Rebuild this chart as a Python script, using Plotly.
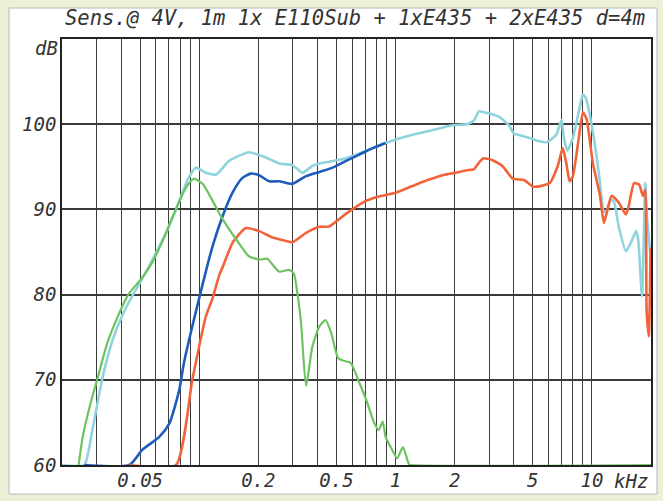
import plotly.graph_objects as go
import math

# ---- data (frequency in kHz, level in dB) ----
cyan_f = [0.02, 0.026, 0.0285, 0.032, 0.036, 0.041, 0.046, 0.0505, 0.0578, 0.0678, 0.0762, 0.0874,
          0.0961, 0.108, 0.122, 0.142, 0.179, 0.218, 0.255, 0.298, 0.336, 0.377, 0.41, 0.46, 0.56, 0.71,
          0.89, 1.13, 1.48, 1.97, 2.3, 2.5, 2.66, 2.94, 3.4, 3.8, 4.0, 4.5, 5.2, 5.9, 6.6, 7.0, 7.2, 7.5,
          8.0, 8.6, 9.0, 9.3, 10.2, 11.0, 11.4, 11.8, 12.5, 13.0, 13.7, 14.9, 15.8, 16.8, 17.2, 18.0,
          18.7, 19.0, 19.9]
cyan_db = [60, 60, 64.0, 70, 74.5, 77.8, 80.0, 81.6, 84.1, 87.25, 90.0, 93.5,
           94.9, 94.3, 94.1, 95.7, 96.7, 96.1, 95.4, 95.2, 94.3, 95.1, 95.4, 95.6, 96.0, 96.9,
           97.8, 98.55, 99.2, 99.9, 100.0, 100.4, 101.5, 101.3, 100.8, 99.8, 98.9, 98.6, 98.1, 97.9, 98.8, 100.5, 98.4, 96.9,
           98.4, 101.6, 103.5, 103.1, 98.6, 93.1, 90.0, 89.6, 91.2, 90.8, 88.0, 85.1, 86.1, 87.45, 86.5, 79.8,
           93.1, 89.6, 84.5]

blue_f = [0.026, 0.044, 0.0514, 0.0626, 0.0705, 0.0791, 0.0836, 0.1, 0.117, 0.1315, 0.148, 0.166, 0.183,
          0.202, 0.227, 0.255, 0.298, 0.35, 0.41, 0.478, 0.56, 0.65, 0.75, 0.89]
blue_db = [60, 60, 61.8, 63.3, 64.9, 68.8, 72.0, 79.6, 85.7, 89.2, 92.0, 93.7, 94.2,
           94.0, 93.3, 93.3, 93.0, 93.9, 94.4, 94.9, 95.7, 96.4, 97.1, 97.8]

orange_f = [0.044, 0.0762, 0.0922, 0.108, 0.117, 0.127, 0.132, 0.148, 0.172, 0.202, 0.236, 0.255, 0.298,
            0.35, 0.41, 0.46, 0.56, 0.68, 0.82, 1.0, 1.22, 1.48, 1.8, 2.02, 2.3, 2.5, 2.66, 2.8, 3.1, 3.5,
            3.96, 4.5, 5.0, 5.4, 6.1, 6.7, 7.1, 7.4, 7.7, 8.0, 8.6, 9.0, 9.4, 10.1, 11.0, 11.5, 11.9, 12.6,
            13.7, 14.9, 15.4, 16.4, 17.4, 18.2, 18.7, 19.0, 19.5, 19.9]
orange_db = [60, 60, 70, 77.4, 79.6, 82.4, 83.3, 86.1, 87.8, 87.45, 86.7, 86.5, 86.15,
             87.25, 87.96, 88.0, 89.5, 90.8, 91.5, 91.96, 92.75, 93.5, 94.1, 94.3, 94.6, 94.7, 95.5, 96.0, 95.8, 95.1,
             93.6, 93.45, 92.7, 92.7, 93.1, 95.1, 97.2, 95.5, 93.3, 93.9, 98.6, 101.4, 100.6, 95.5, 91.6, 88.4, 89.6, 91.6,
             90.8, 89.4, 90.4, 93.1, 92.9, 91.6, 92.3, 78.2, 75.1, 85.5]

green_f = [0.0243, 0.0255, 0.028, 0.0302, 0.034, 0.0385, 0.0435, 0.0505, 0.0568, 0.0651, 0.0746, 0.0856,
           0.094, 0.104, 0.117, 0.132, 0.154, 0.179, 0.202, 0.222, 0.255, 0.286, 0.303, 0.316, 0.33, 0.35,
           0.377, 0.41, 0.44, 0.47, 0.51, 0.55, 0.59, 0.65, 0.71, 0.78, 0.82, 0.86, 0.89, 0.96, 1.02, 1.09,
           1.17, 1.2, 20]
green_db = [60, 63.3, 67.3, 70, 74.3, 77.45, 80, 81.8, 83.5, 86.3, 89.6, 92.55,
            93.6, 93.0, 91.0, 88.8, 86.5, 84.5, 84.1, 84.2, 82.7, 82.9, 82.5, 80.2, 76.7, 69.3,
            73.9, 76.3, 77.0, 75.5, 72.55, 72.2, 72.0, 69.8, 67.6, 64.9, 64.1, 65.1, 63.3, 61.8, 60.8, 62.1,
            60.1, 60, 60]

grid_f = [0.03, 0.04, 0.05, 0.06, 0.07, 0.08, 0.09, 0.1, 0.2, 0.3, 0.4, 0.5, 0.6, 0.7, 0.8, 0.9,
          1, 2, 3, 4, 5, 6, 7, 8, 9, 10]
x_labels = {0.05: "0.05", 0.2: "0.2", 0.5: "0.5", 1: "1", 2: "2", 5: "5", 10: "10"}
y_ticks = [60, 70, 80, 90, 100]

title_text = "Sens.@ 4V, 1m 1x E110Sub + 1xE435 + 2xE435 d=4m"

# ---- figure ----
FONT = "DejaVu Sans Mono"
TXT = "#333333"

fig = go.Figure()
fig.add_trace(go.Scatter(x=cyan_f, y=cyan_db, mode="lines",
                         line=dict(color="#8fd4dc", width=2.6, shape="spline", smoothing=0.5)))
fig.add_trace(go.Scatter(x=blue_f, y=blue_db, mode="lines",
                         line=dict(color="#1d5bbd", width=2.6, shape="spline", smoothing=0.6)))
fig.add_trace(go.Scatter(x=orange_f, y=orange_db, mode="lines",
                         line=dict(color="#f3633a", width=2.6, shape="spline", smoothing=0.5)))
fig.add_trace(go.Scatter(x=green_f, y=green_db, mode="lines",
                         line=dict(color="#6cc35f", width=2.2, shape="spline", smoothing=0.6)))

W, H = 663, 501
L, R, T, B = 62, 12, 39, 36
pw, ph = W - L - R, H - T - B

def px_to_paper_x(px):
    return (px - L) / pw

def px_to_paper_y(py):
    return (H - B - py) / ph

fig.update_layout(
    width=W, height=H,
    margin=dict(l=L, r=R, t=T, b=B, autoexpand=False),
    paper_bgcolor="#edf0d6",
    plot_bgcolor="#ffffff",
    showlegend=False,
    shapes=[dict(type="rect", xref="paper", yref="paper",
                 x0=px_to_paper_x(9), x1=px_to_paper_x(657),
                 y0=px_to_paper_y(494), y1=px_to_paper_y(8),
                 fillcolor="#ffffff", line=dict(color="#b8b8b8", width=1), layer="below")],
    annotations=[
        dict(text=title_text, xref="paper", yref="paper", x=px_to_paper_x(355), y=px_to_paper_y(18),
             xanchor="center", yanchor="middle", showarrow=False,
             font=dict(family=FONT, size=20.5, color=TXT, style="italic")),
        dict(text="dB", xref="paper", yref="paper", x=px_to_paper_x(60), y=px_to_paper_y(48),
             xanchor="right", yanchor="middle", showarrow=False,
             font=dict(family=FONT, size=19, color=TXT, style="italic")),
        dict(text="kHz", xref="paper", yref="paper", x=px_to_paper_x(612), y=px_to_paper_y(481),
             xanchor="left", yanchor="middle", showarrow=False,
             font=dict(family=FONT, size=19, color=TXT, style="italic")),
    ],
)

fig.update_xaxes(
    type="log", range=[math.log10(0.02), math.log10(20)], automargin=False,
    tickvals=grid_f, ticktext=[x_labels.get(v, "") for v in grid_f],
    showgrid=True, gridcolor="#3c3c3c", gridwidth=1.2,
    ticks="", ticklabelstandoff=-3,
    tickfont=dict(family=FONT, size=19, color=TXT, style="italic"),
    showline=True, mirror=True, linecolor="#222222", linewidth=1.6, zeroline=False,
)
fig.update_yaxes(
    range=[60, 110], tickvals=y_ticks, automargin=False,
    showgrid=True, gridcolor="#3a3a3a", gridwidth=1.5,
    ticks="", tickfont=dict(family=FONT, size=19, color=TXT, style="italic"),
    showline=True, mirror=True, linecolor="#222222", linewidth=1.6, zeroline=False,
)

fig.write_html("out.html")
